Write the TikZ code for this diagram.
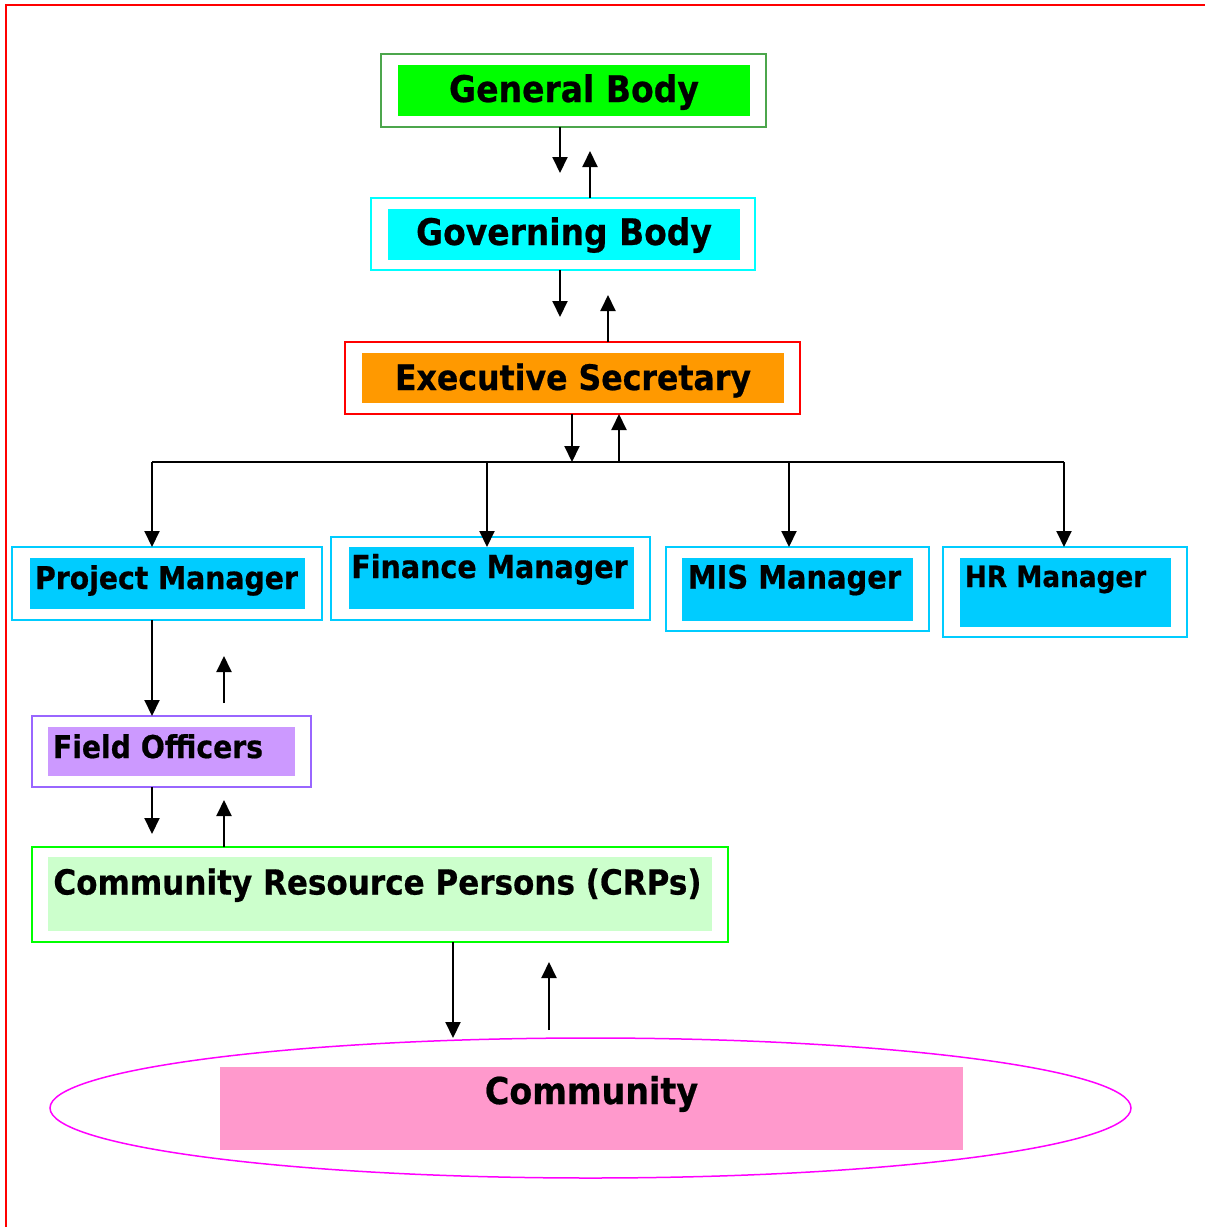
\documentclass[tikz,border=0pt]{standalone}
\usepackage{fontspec}
\newfontfamily\orgfont[FakeStretch=0.9, BoldFeatures={FakeBold=0.6}]{DejaVu Sans}
\usetikzlibrary{arrows.meta,shapes.geometric}

\definecolor{gbLine}{RGB}{76,166,76}
\definecolor{gbFill}{RGB}{0,255,0}
\definecolor{govFill}{RGB}{0,255,255}
\definecolor{esLine}{RGB}{255,0,0}
\definecolor{esFill}{RGB}{255,153,0}
\definecolor{mgrFill}{RGB}{0,204,255}
\definecolor{foLine}{RGB}{153,102,255}
\definecolor{foFill}{RGB}{204,153,255}
\definecolor{crpLine}{RGB}{0,255,0}
\definecolor{crpFill}{RGB}{204,255,204}
\definecolor{commLine}{RGB}{255,0,255}
\definecolor{commFill}{RGB}{255,153,204}

\begin{document}
\begin{tikzpicture}[
		x=1pt, y=-1pt,
		% Styles
		outerBox/.style={draw=#1, line width=1.5pt, fill=white, rectangle, inner sep=0pt, outer sep=0pt},
		innerBox/.style={fill=#1, rectangle, inner sep=0pt, outer sep=0pt},
		boxText/.style={anchor=base, inner sep=0pt, font=\orgfont\bfseries\fontsize{#1}{#1}\selectfont},
		flow/.style={-{Triangle[length=16pt,width=15pt]}, line width=2pt, black},
		bus/.style={line width=2pt, black},
		frame/.style={draw=red, line width=2pt}
	]

	\useasboundingbox (0,0) rectangle (1205,1227);
	\draw[frame] (6,1227) -- (6,5) -- (1205,5);

	% --- 1. TOP OF THE CHAIN ---
	\node[outerBox=gbLine, minimum width=385, minimum height=73] (gb) at (573.5,90.5) {};
	\node[innerBox=gbFill, minimum width=352, minimum height=51] (gbIn) at (574,90.5) {};
	\node[boxText=36.7] (gbText) at (574,102) {General Body};

	\node[outerBox=govFill, minimum width=384, minimum height=72] (gov) at (563,234) {};
	\node[innerBox=govFill, minimum width=352, minimum height=51] (govIn) at (564,234.5) {};
	\node[boxText=36.6] (govText) at (564,245) {Governing Body};

	\node[outerBox=esLine, minimum width=455, minimum height=72] (es) at (572.5,378) {};
	\node[innerBox=esFill, minimum width=422, minimum height=50] (esIn) at (573,378) {};
	\node[boxText=35.1] (esText) at (573,390) {Executive Secretary};

	% arrows down and back up
	\coordinate (gbDown) at (560,173);
	\coordinate (gbUp) at (590,151);
	\draw[flow] (gb.south -| gbDown) -- (gbDown);
	\draw[flow] (gov.north -| gbUp) -- (gbUp);

	\coordinate (govDown) at (560,317);
	\coordinate (govUp) at (608,295);
	\draw[flow] (gov.south -| govDown) -- (govDown);
	\draw[flow] (es.north -| govUp) -- (govUp);

	% --- 2. THE MANAGERS ---
	\node[outerBox=mgrFill, minimum width=310, minimum height=73] (pm) at (167,583.5) {};
	\node[innerBox=mgrFill, minimum width=275, minimum height=51] (pmIn) at (167.5,583.5) {};
	\node[boxText=31.4] (pmText) at (166.5,589) {Project Manager};

	\node[outerBox=mgrFill, minimum width=319, minimum height=83] (fm) at (490.5,578.5) {};
	\node[innerBox=mgrFill, minimum width=285, minimum height=62] (fmIn) at (491.5,578) {};
	\node[boxText=31.7] (fmText) at (489.5,578) {Finance Manager};

	\node[outerBox=mgrFill, minimum width=263, minimum height=84] (mis) at (797.5,589) {};
	\node[innerBox=mgrFill, minimum width=231, minimum height=63] (misIn) at (797.5,589.5) {};
	\node[boxText=32.1] (misText) at (794.5,588.5) {MIS Manager};

	\node[outerBox=mgrFill, minimum width=244, minimum height=90] (hr) at (1065,592) {};
	\node[innerBox=mgrFill, minimum width=211, minimum height=69] (hrIn) at (1065.5,592.5) {};
	\node[boxText=29.2] (hrText) at (1055.5,587) {HR Manager};

	% the bus under the secretary
	\coordinate (esDown) at (572,462);
	\coordinate (esUp) at (619,462);
	\draw[flow] (es.south -| esDown) -- (esDown);
	\draw[flow] (esUp) -- (es.south -| esUp);

	\coordinate (busL) at (152,462);
	\coordinate (busR) at (1064,462);
	\draw[bus] (busL) -- (busR);
	\foreach \x/\n in {152/pm, 487/fmIn, 789/mis, 1064/hr} {
			\coordinate (drop\n) at (\x,462);
			\draw[flow] (drop\n) -- (drop\n |- \n.north);
		}

	% --- 3. FIELD LEVEL ---
	\node[outerBox=foLine, minimum width=279, minimum height=71] (fo) at (171.5,751.5) {};
	\node[innerBox=foFill, minimum width=247, minimum height=49] (foIn) at (171.5,751.5) {};
	\node[boxText=31.4] (foText) at (158,758) {Field Officers};

	\node[outerBox=crpLine, minimum width=696, minimum height=95] (crp) at (380,894.5) {};
	\node[innerBox=crpFill, minimum width=664, minimum height=74] (crpIn) at (380,894) {};
	\node[boxText=34.5] (crpText) at (377.5,894.5) {Community Resource Persons (CRPs)};

	\draw[flow] (pm.south -| droppm) -- (droppm |- fo.north);
	\coordinate (pmUpA) at (224,703);
	\coordinate (pmUpB) at (224,656);
	\draw[flow] (pmUpA) -- (pmUpB);

	\coordinate (foDown) at (152,834);
	\coordinate (foUp) at (224,800);
	\draw[flow] (fo.south -| foDown) -- (foDown);
	\draw[flow] (crp.north -| foUp) -- (foUp);

	% --- 4. COMMUNITY ---
	\node[ellipse, draw=commLine, line width=1.5pt, inner sep=0pt, minimum width=1081, minimum height=140] (comm) at (590.5,1108) {};
	\node[innerBox=commFill, minimum width=743, minimum height=83] (commIn) at (591.5,1108.5) {};
	\node[boxText=37] (commText) at (591.5,1104) {Community};

	\coordinate (crpDown) at (453,1038);
	\coordinate (crpUpA) at (549,1030);
	\coordinate (crpUpB) at (549,962);
	\draw[flow] (crp.south -| crpDown) -- (crpDown);
	\draw[flow] (crpUpA) -- (crpUpB);

\end{tikzpicture}
\end{document}
